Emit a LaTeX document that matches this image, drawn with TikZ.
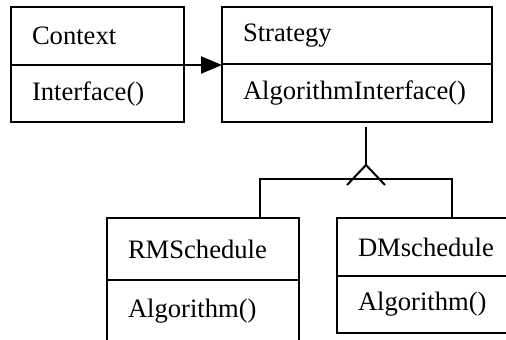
\documentclass[tikz,border=0pt]{standalone}
\usepackage{fontspec}
\setmainfont{Liberation Serif}
\usepackage{tikz}
\usetikzlibrary{arrows.meta, positioning}

\tikzset{
	uml/.style={line width=1pt},
	classpart/.style 2 args={draw, uml, anchor=north west, outer sep=0pt, inner xsep=10.5pt, inner ysep=0pt,
		align=left, text width=#1, minimum height=#2, font=\fontsize{13.3}{16}\selectfont},
	assoc/.style={uml, -{Triangle[length=10.5pt, width=8.5pt]}},
}

\begin{document}
\begin{tikzpicture}[x=0.5pt, y=-0.5pt]

\useasboundingbox (0,0) rectangle (506,339);
\clip (0,0) rectangle (506,339);

% classes
\node[classpart={65.5pt}{29pt}] (ctx) at (11,7) {Context};
\node[classpart={65.5pt}{28.5pt}, below=0pt of ctx] (ctx op) {Interface()};

\node[classpart={114pt}{28.5pt}] (strat) at (222,7) {Strategy};
\node[classpart={114pt}{29pt}, below=0pt of strat] (strat op) {AlgorithmInterface()};

\node[classpart={75pt}{31pt}] (rms) at (107,218) {RMSchedule};
\node[classpart={75pt}{31pt}, below=0pt of rms] (rms op) {Algorithm()};

\node[classpart={75pt}{29pt}] (dms) at (337,218) {DMschedule};
\node[classpart={75pt}{28.5pt}, below=0pt of dms] (dms op) {Algorithm()};

% association
\draw[assoc] (ctx.south east) -- (ctx.south east -| strat.west);

% generalization
\coordinate (gen top) at (366,127);
\coordinate (apex) at (366,165);
\coordinate (bar) at (366,179);
\coordinate (rms top) at (260,218);
\coordinate (dms top) at (452,218);

\draw[uml] (gen top) -- (apex);
\draw[uml] (347,185) -- (apex) -- (385,185); % open head
\draw[uml] (rms top) |- (bar) -| (dms top);

\end{tikzpicture}
\end{document}
